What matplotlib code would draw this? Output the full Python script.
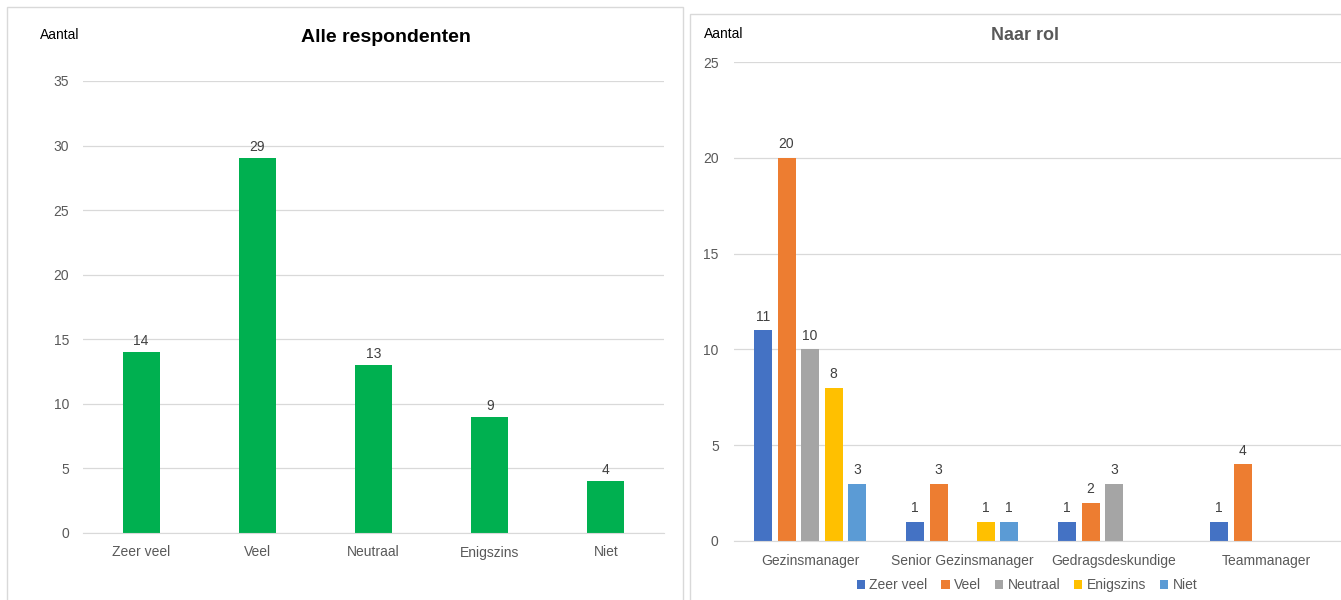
import numpy as np
import matplotlib.pyplot as plt
from matplotlib.patches import Rectangle

## Data

answers = ['Zeer veel', 'Veel', 'Neutraal', 'Enigszins', 'Niet']
all_counts = [14, 29, 13, 9, 4]

roles = ['Gezinsmanager', 'Senior Gezinsmanager', 'Gedragsdeskundige', 'Teammanager']
by_role = {
    'Zeer veel': [11, 1, 1, 1],
    'Veel': [20, 3, 2, 4],
    'Neutraal': [10, 0, 3, 0],
    'Enigszins': [8, 1, 0, 0],
    'Niet': [3, 1, 0, 0],
}
role_colors = ['#4472C4', '#ED7D31', '#A5A5A5', '#FFC000', '#5B9BD5']

plt.rcParams['font.family'] = ['Liberation Sans', 'DejaVu Sans']

W, H = 1341, 600
fig = plt.figure(figsize=(W / 100, H / 100), dpi=100)

def px_axes(x0, y0, x1, y1):
    return fig.add_axes([x0 / W, 1 - y1 / H, (x1 - x0) / W, (y1 - y0) / H])

def style(ax):
    for s in ['top', 'right', 'left']:
        ax.spines[s].set_visible(False)
    ax.spines['bottom'].set_color('#D9D9D9')
    ax.tick_params(length=0, colors='#595959', labelsize=10)
    ax.yaxis.grid(True, color='#D9D9D9', linewidth=0.9)
    ax.set_axisbelow(True)

## Panel frames
fig.patches.append(Rectangle((7 / W, -0.1), 676 / W, 1 - 7 / H + 0.1, transform=fig.transFigure,
                             fill=False, edgecolor='#D9D9D9', linewidth=1))
fig.patches.append(Rectangle((690 / W, -0.1), 700 / W, 1 - 14 / H + 0.1, transform=fig.transFigure,
                             fill=False, edgecolor='#D9D9D9', linewidth=1))

## Left: all respondents
ax1 = px_axes(83, 81, 664, 533)
style(ax1)
x = np.arange(len(answers))
b = ax1.bar(x, all_counts, width=0.32, color='#00B050')
ax1.bar_label(b, padding=3, fontsize=10, color='#404040')
ax1.set_xlim(-0.5, len(answers) - 0.5)
ax1.set_ylim(0, 35)
ax1.set_yticks(range(0, 36, 5))
ax1.set_xticks(x)
ax1.set_xticklabels(answers)
ax1.tick_params(axis='x', pad=9)
ax1.tick_params(axis='y', pad=10)
fig.text(60 / W, 1 - 35 / H, 'Aantal', ha='center', va='center', fontsize=10)
fig.text(386 / W, 1 - 37 / H, 'Alle respondenten', ha='center', va='center',
         fontsize=14, fontweight='bold', color='black')

## Right: by role
ax2 = px_axes(734, 62, 1342, 541)
style(ax2)
x2 = np.arange(len(roles))
slot = 23.5 / 152
for i, (name, c) in enumerate(zip(answers, role_colors)):
    vals = np.array(by_role[name])
    pos = x2 + (i - 2) * slot
    bars = ax2.bar(pos, vals, width=18 / 152, color=c, label=name)
    for p, v in zip(pos, vals):
        if v > 0:
            ax2.text(p, v + 0.35, str(v), ha='center', va='bottom', fontsize=10, color='#404040')
ax2.set_xlim(-0.5, len(roles) - 0.5)
ax2.set_ylim(0, 25)
ax2.set_yticks(range(0, 26, 5))
ax2.set_xticks(x2)
ax2.set_xticklabels(roles)
ax2.tick_params(axis='x', pad=9)
ax2.tick_params(axis='y', pad=11)
fig.text(724 / W, 1 - 34 / H, 'Aantal', ha='center', va='center', fontsize=10)
fig.text(1025 / W, 1 - 36 / H, 'Naar rol', ha='center', va='center',
         fontsize=13, fontweight='bold', color='#595959')
ax2.legend(loc='center', bbox_to_anchor=(1027 / W, 1 - 585 / H), bbox_transform=fig.transFigure,
           ncol=5, frameon=False, fontsize=10, handlelength=0.6, handleheight=0.6,
           handletextpad=0.3, columnspacing=1.0, labelcolor='#595959')

fig.savefig('out.png', dpi=100)
